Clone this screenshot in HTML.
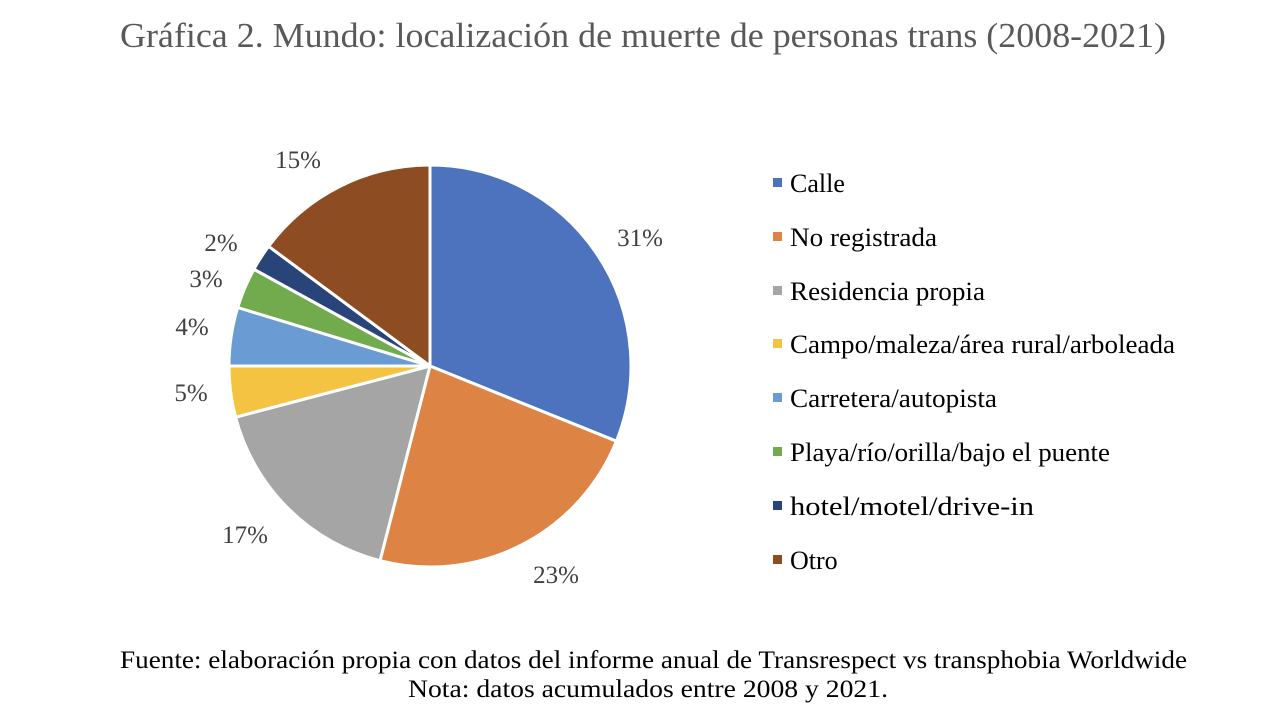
<!DOCTYPE html>
<html><head><meta charset="utf-8"><style>
html,body{margin:0;padding:0;background:#fff;}
svg{display:block;font-family:"Liberation Serif",serif;}
</style></head><body>
<svg width="1278" height="718" viewBox="0 0 1278 718" xmlns="http://www.w3.org/2000/svg">
<rect width="1278" height="718" fill="#fff"/>
<text x="120" y="47" font-size="35" fill="#595959" textLength="1046" lengthAdjust="spacingAndGlyphs">Gráfica 2. Mundo: localización de muerte de personas trans (2008-2021)</text>
<g stroke="#fff" stroke-width="3" stroke-linejoin="round">
<path fill="#4E73BE" d="M430,366 L430,165 A201,201 0 0 1 616.4,441.2 Z"/>
<path fill="#DD8344" d="M430,366 L616.4,441.2 A201,201 0 0 1 380.0,560.7 Z"/>
<path fill="#A5A5A5" d="M430,366 L380.0,560.7 A201,201 0 0 1 235.6,417.2 Z"/>
<path fill="#F5C342" d="M430,366 L235.6,417.2 A201,201 0 0 1 229,366 Z"/>
<path fill="#6A9BD3" d="M430,366 L229,366 A201,201 0 0 1 237.7,307.5 Z"/>
<path fill="#72AB4D" d="M430,366 L237.7,307.5 A201,201 0 0 1 253.9,269.2 Z"/>
<path fill="#284478" d="M430,366 L253.9,269.2 A201,201 0 0 1 268.6,246.3 Z"/>
<path fill="#8E4C22" d="M430,366 L268.6,246.3 A201,201 0 0 1 430,165 Z"/>
</g>
<g font-size="25" fill="#404040">
<text x="298" y="168" text-anchor="middle">15%</text>
<text x="640" y="246" text-anchor="middle">31%</text>
<text x="221" y="251" text-anchor="middle">2%</text>
<text x="206" y="287" text-anchor="middle">3%</text>
<text x="192" y="335" text-anchor="middle">4%</text>
<text x="191" y="401" text-anchor="middle">5%</text>
<text x="245" y="543" text-anchor="middle">17%</text>
<text x="556" y="583" text-anchor="middle">23%</text>
</g>
<g font-size="26" fill="#000">
<rect x="773" y="178" width="9" height="9" fill="#4E73BE"/><text x="790" y="192">Calle</text>
<rect x="773" y="232" width="9" height="9" fill="#DD8344"/><text x="790" y="246" textLength="147" lengthAdjust="spacingAndGlyphs">No registrada</text>
<rect x="773" y="286" width="9" height="9" fill="#A5A5A5"/><text x="790" y="300" textLength="195" lengthAdjust="spacingAndGlyphs">Residencia propia</text>
<rect x="773" y="339" width="9" height="9" fill="#F5C342"/><text x="790" y="353" textLength="385" lengthAdjust="spacingAndGlyphs">Campo/maleza/área rural/arboleada</text>
<rect x="773" y="393" width="9" height="9" fill="#6A9BD3"/><text x="790" y="407" textLength="207" lengthAdjust="spacingAndGlyphs">Carretera/autopista</text>
<rect x="773" y="447" width="9" height="9" fill="#72AB4D"/><text x="790" y="461" textLength="320" lengthAdjust="spacingAndGlyphs">Playa/río/orilla/bajo el puente</text>
<rect x="773" y="501" width="9" height="9" fill="#284478"/><text x="790" y="515" textLength="244" lengthAdjust="spacingAndGlyphs">hotel/motel/drive-in</text>
<rect x="773" y="555" width="9" height="9" fill="#8E4C22"/><text x="790" y="569">Otro</text>
</g>
<g font-size="25" fill="#000">
<text x="120" y="668" textLength="1067" lengthAdjust="spacingAndGlyphs">Fuente: elaboración propia con datos del informe anual de Transrespect vs transphobia Worldwide</text>
<text x="408" y="697" textLength="480" lengthAdjust="spacingAndGlyphs">Nota: datos acumulados entre 2008 y 2021.</text>
</g>
</svg>
</body></html>
